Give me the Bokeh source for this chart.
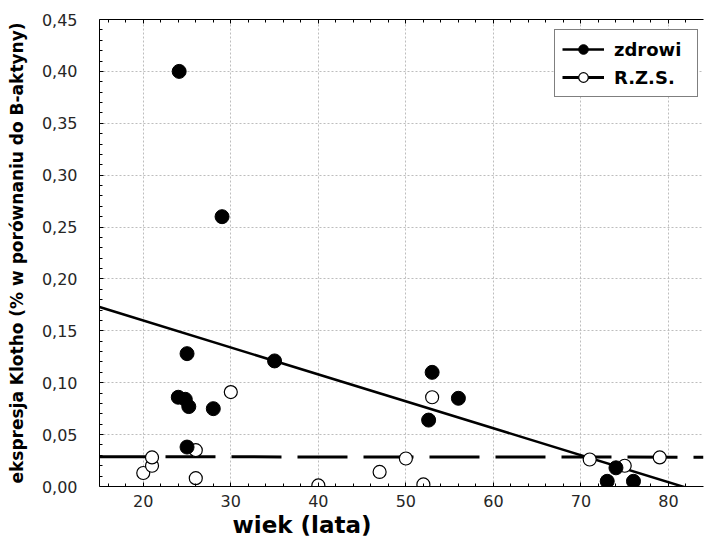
import numpy as np
from bokeh.plotting import figure
from bokeh.models import (Range1d, FixedTicker, CustomJSTickFormatter, LinearAxis,
                          Legend, LegendItem, Title, ColumnDataSource)
from bokeh.embed import file_html
from bokeh.resources import INLINE

# ---- data ----
zdrowi_age = [24.1, 29.0, 25.0, 35.0, 24.0, 24.8, 25.2, 28.0, 25.0, 53.0, 56.0, 52.6, 74.0, 73.0, 76.0]
zdrowi_val = [0.400, 0.260, 0.128, 0.121, 0.086, 0.084, 0.077, 0.075, 0.038, 0.110, 0.085, 0.064, 0.018, 0.005, 0.005]

rzs_age = [20.0, 21.0, 21.0, 26.0, 26.0, 30.0, 40.0, 47.0, 50.0, 52.0, 53.0, 71.0, 75.0, 79.0]
rzs_val = [0.013, 0.020, 0.028, 0.035, 0.008, 0.091, 0.001, 0.014, 0.027, 0.002, 0.086, 0.026, 0.020, 0.028]

x_ticks = [20, 30, 40, 50, 60, 70, 80]
y_ticks = [0.0, 0.05, 0.10, 0.15, 0.20, 0.25, 0.30, 0.35, 0.40, 0.45]

x_label = "wiek (lata)"
y_label = "ekspresja Klotho (% w porównaniu do B-aktyny)"
series_labels = ["zdrowi", "R.Z.S."]

X_MIN, X_MAX = 15, 84
Y_MIN, Y_MAX = 0.0, 0.45

p = figure(width=704, height=542, output_backend="svg", toolbar_location=None,
           x_range=Range1d(X_MIN, X_MAX), y_range=Range1d(Y_MIN, Y_MAX),
           x_axis_location=None, y_axis_location=None,
           min_border_left=99, min_border_right=1, min_border_top=19, min_border_bottom=56)
p.outline_line_color = None
p.background_fill_color = "white"
p.border_fill_color = "white"

x_minor = [float(v) for v in np.arange(16, 84, 2) if v % 10 != 0]
y_minor = [round(float(v), 3) for v in np.arange(0.01, 0.45, 0.01)]
xt = FixedTicker(ticks=x_ticks, minor_ticks=x_minor)
yt = FixedTicker(ticks=y_ticks, minor_ticks=y_minor)

fmt = CustomJSTickFormatter(code="return tick.toFixed(2).replace('.', ',');")
blank = CustomJSTickFormatter(code="return '';")

def style_axis(ax):
    ax.axis_line_color = "black"
    ax.axis_line_width = 1
    ax.major_tick_in = 4
    ax.major_tick_out = 0
    ax.minor_tick_in = 3
    ax.minor_tick_out = 0
    ax.major_tick_line_color = "black"
    ax.minor_tick_line_color = "black"
    ax.major_label_text_font = "DejaVu Sans"
    ax.major_label_text_font_size = "16px"
    ax.major_label_text_color = "#262626"

xaxis = LinearAxis(ticker=xt)
style_axis(xaxis)
xaxis.major_label_standoff = 8
p.add_layout(xaxis, "below")

yaxis = LinearAxis(ticker=yt, formatter=fmt, axis_label=y_label)
style_axis(yaxis)
yaxis.major_label_standoff = 22
yaxis.axis_label_text_font = "DejaVu Sans"
yaxis.axis_label_text_font_style = "bold"
yaxis.axis_label_text_font_size = "17px"
yaxis.axis_label_text_color = "black"
yaxis.axis_label_standoff = 12
p.add_layout(yaxis, "left")

topaxis = LinearAxis(ticker=xt, formatter=blank)
style_axis(topaxis)
topaxis.major_label_standoff = 0
p.add_layout(topaxis, "above")

p.xgrid.ticker = xt
p.ygrid.ticker = yt
for g in (p.xgrid, p.ygrid):
    g.grid_line_color = "#bdbdbd"
    g.grid_line_dash = "2 2"
    g.grid_line_width = 1

# regression lines computed from the data
xs_fit = [X_MIN, X_MAX]
kz = np.polyfit(zdrowi_age, zdrowi_val, 1)
kr = np.polyfit(rzs_age, rzs_val, 1)
src_z = ColumnDataSource(dict(x=xs_fit, y=list(np.polyval(kz, xs_fit))))
src_r = ColumnDataSource(dict(x=xs_fit, y=list(np.polyval(kr, xs_fit))))

lz = p.line("x", "y", source=src_z, line_color="black", line_width=2.5)
lr = p.line("x", "y", source=src_r, line_color="black", line_width=3, line_dash="50 16")

sr = p.scatter(rzs_age, rzs_val, size=13, marker="circle", fill_color="white",
               line_color="black", line_width=1.2)
sz = p.scatter(zdrowi_age, zdrowi_val, size=14, marker="circle", fill_color="black",
               line_color="black", line_width=1)

legend = Legend(items=[LegendItem(label=series_labels[0], renderers=[lz, sz]),
                       LegendItem(label=series_labels[1], renderers=[lr, sr])],
                location=(455, 389))
legend.label_text_font = "DejaVu Sans"
legend.label_text_font_style = "bold"
legend.label_text_font_size = "18px"
legend.label_text_color = "black"
legend.border_line_color = "black"
legend.border_line_width = 1
legend.background_fill_color = "white"
legend.background_fill_alpha = 1
legend.padding = 7
legend.spacing = 4
legend.glyph_width = 42
legend.glyph_height = 24
legend.label_height = 24
legend.label_width = 76
legend.label_standoff = 10
legend.margin = 0
p.add_layout(legend, "center")

p.add_layout(Title(text=x_label, align="left", offset=133, text_font="DejaVu Sans",
                   text_font_style="bold", text_font_size="23px", text_color="black",
                   standoff=0), "below")

open("out.html", "w").write(file_html(p, INLINE))
